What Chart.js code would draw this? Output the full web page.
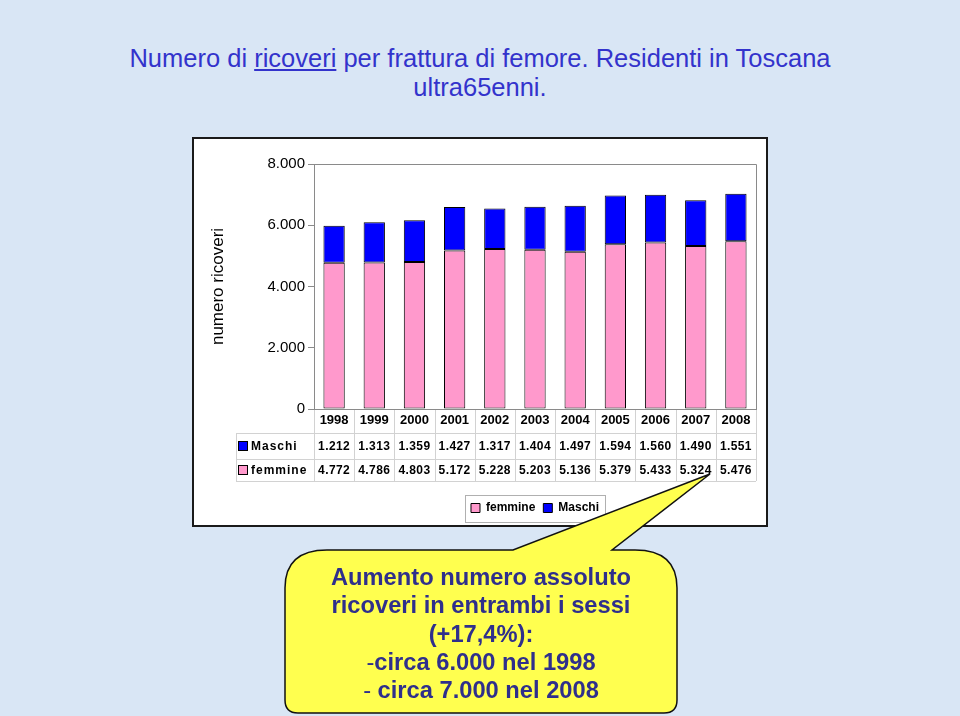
<!DOCTYPE html>
<html><head><meta charset="utf-8">
<script src="https://cdn.jsdelivr.net/npm/chart.js@4.4.1/dist/chart.umd.min.js"></script>
<style>
html,body{margin:0;padding:0;}
body{width:960px;height:716px;position:relative;overflow:hidden;background:#d9e6f5;font-family:Arial,"Liberation Sans",sans-serif;}
#title{position:absolute;left:0;top:44px;width:960px;text-align:center;color:#3333cc;font-size:25.5px;line-height:29px;}
#box{position:absolute;left:192px;top:137px;width:572px;height:386px;border:2px solid #1a1a1a;background:#fff;}
#box canvas{display:block;}
#shape{position:absolute;left:0;top:0;}
#ctext{position:absolute;left:275px;top:563px;width:412px;text-align:center;color:#2f2f8c;font-weight:bold;font-size:23.7px;line-height:28.3px;}
#ctext .d{font-weight:normal;}
</style></head>
<body>
<div id="title">Numero di <u>ricoveri</u> per frattura di femore. Residenti in Toscana<br>ultra65enni.</div>
<div id="box"><canvas id="c" width="572" height="386"></canvas></div>
<svg id="shape" width="960" height="716">
<path d="M285 700 L285 588 Q285 550 327 550 L513 550 L710 474 L612 550 L635 550 Q677 550 677 588 L677 700 Q677 713 664 713 L298 713 Q285 713 285 700 Z" fill="#ffff4f" stroke="#111" stroke-width="1.5"/>
</svg>
<div id="ctext">Aumento numero assoluto<br>ricoveri in entrambi i sessi<br>(+17,4%):<br><span class="d">-</span>circa 6.000 nel 1998<br><span class="d">-</span> circa 7.000 nel 2008</div>
<script>
const years = ['1998','1999','2000','2001','2002','2003','2004','2005','2006','2007','2008'];
const maschi = [1212,1313,1359,1427,1317,1404,1497,1594,1560,1490,1551];
const femmine = [4772,4786,4803,5172,5228,5203,5136,5379,5433,5324,5476];
const yTicks = [0,2000,4000,6000,8000];

function fmt(v){ return String(v).replace(/\B(?=(\d{3})+(?!\d))/g,'.'); }

const tablePlugin = {
  id:'tablePlugin',
  afterDraw(chart){
    const ctx = chart.ctx, ca = chart.chartArea, xs = chart.scales.x;
    const n = years.length, w = (xs.right - xs.left)/n;
    const b0 = ca.bottom, r1 = b0+24, r2 = b0+50, r3 = b0+72, tl = 42;
    ctx.save();
    ctx.strokeStyle = '#8a8a8a'; ctx.lineWidth = 1;
    ctx.beginPath();
    ctx.moveTo(ca.left, ca.top+0.5); ctx.lineTo(ca.right+0.5, ca.top+0.5); ctx.lineTo(ca.right+0.5, ca.bottom);
    ctx.stroke();
    ctx.strokeStyle = '#d2d2d2';
    ctx.beginPath();
    [r1,r2,r3].forEach(y=>{ ctx.moveTo(tl, y+0.5); ctx.lineTo(xs.right, y+0.5); });
    ctx.moveTo(tl+0.5, r1); ctx.lineTo(tl+0.5, r3);
    for(let k=0;k<=n;k++){ const x = Math.round(xs.left + k*w)+0.5; ctx.moveTo(x, b0+1); ctx.lineTo(x, r3); }
    ctx.stroke();
    const rows = [
      {label:'Maschi', data:maschi, color:chart.data.datasets[1].backgroundColor, y:(r1+r2)/2},
      {label:'femmine', data:femmine, color:chart.data.datasets[0].backgroundColor, y:(r2+r3)/2}
    ];
    ctx.textBaseline = 'middle';
    rows.forEach(r=>{
      ctx.fillStyle = r.color; ctx.fillRect(tl+2.5, r.y-4.5, 9, 9);
      ctx.strokeStyle = '#000'; ctx.strokeRect(tl+2.5, r.y-4.5, 9, 9);
      ctx.fillStyle = '#000';
      ctx.font = 'bold 12px Arial, "Liberation Sans", sans-serif';
      ctx.textAlign = 'left';
      try{ ctx.letterSpacing = '1px'; }catch(e){}
      ctx.fillText(r.label, tl+15, r.y+0.5);
      try{ ctx.letterSpacing = '0.4px'; }catch(e){}
      ctx.textAlign = 'center';
      r.data.forEach((v,i)=>{ ctx.fillText(fmt(v), xs.getPixelForValue(i), r.y+0.5); });
    });
    try{ ctx.letterSpacing = '0px'; }catch(e){}
    const lg = chart.legend;
    if (lg && lg.legendHitBoxes && lg.legendHitBoxes.length){
      const hb = lg.legendHitBoxes;
      const l = Math.min(...hb.map(h=>h.left)) - 6;
      const r = Math.max(...hb.map(h=>h.left+h.width)) + 6;
      const t = hb[0].top - 7, btm = hb[0].top + hb[0].height + 8;
      ctx.strokeStyle = '#b0b0b0';
      ctx.strokeRect(Math.round(l)+0.5, Math.round(t)+0.5, Math.round(r-l), Math.round(btm-t));
    }
    ctx.restore();
  }
};

new Chart(document.getElementById('c'), {
  type:'bar',
  data:{
    labels: years,
    datasets:[
      {label:'femmine', data:femmine, backgroundColor:'#ff99cc', borderColor:'#000', borderWidth:1, borderSkipped:false},
      {label:'Maschi', data:maschi, backgroundColor:'#0000ff', borderColor:'#000', borderWidth:1, borderSkipped:false}
    ]
  },
  options:{
    responsive:false, animation:false, devicePixelRatio:1,
    layout:{padding:{left:12, top:25, right:10, bottom:1}},
    datasets:{bar:{barPercentage:0.53, categoryPercentage:1}},
    plugins:{
      tooltip:{enabled:false},
      legend:{position:'bottom', fullSize:false,
        labels:{boxWidth:9, boxHeight:9, padding:8, color:'#000', font:{family:'Arial, "Liberation Sans", sans-serif', size:12, weight:'bold'}}}
    },
    scales:{
      x:{stacked:true,
        grid:{display:true, drawOnChartArea:false, drawTicks:false, color:'rgba(0,0,0,0)'},
        border:{display:true, color:'#8a8a8a'},
        ticks:{padding:4, color:'#000', font:{family:'Arial, "Liberation Sans", sans-serif', size:13, weight:'bold'}, maxRotation:0, autoSkip:false},
        afterFit(s){ s.height = 85; }
      },
      y:{stacked:true, min:0, max:8000,
        afterBuildTicks(s){ s.ticks = yTicks.map(v=>({value:v})); },
        grid:{display:true, drawOnChartArea:false, drawTicks:true, tickLength:6, color:'#8a8a8a'},
        border:{display:true, color:'#8a8a8a'},
        ticks:{padding:3, color:'#000', font:{family:'Arial, "Liberation Sans", sans-serif', size:15}, callback:v=>fmt(v)},
        title:{display:true, text:'numero ricoveri', color:'#000', padding:{top:2,bottom:2}, font:{family:'Arial, "Liberation Sans", sans-serif', size:17}},
        afterFit(s){ s.width = 108; }
      }
    }
  },
  plugins:[tablePlugin]
});
</script>
</body></html>
